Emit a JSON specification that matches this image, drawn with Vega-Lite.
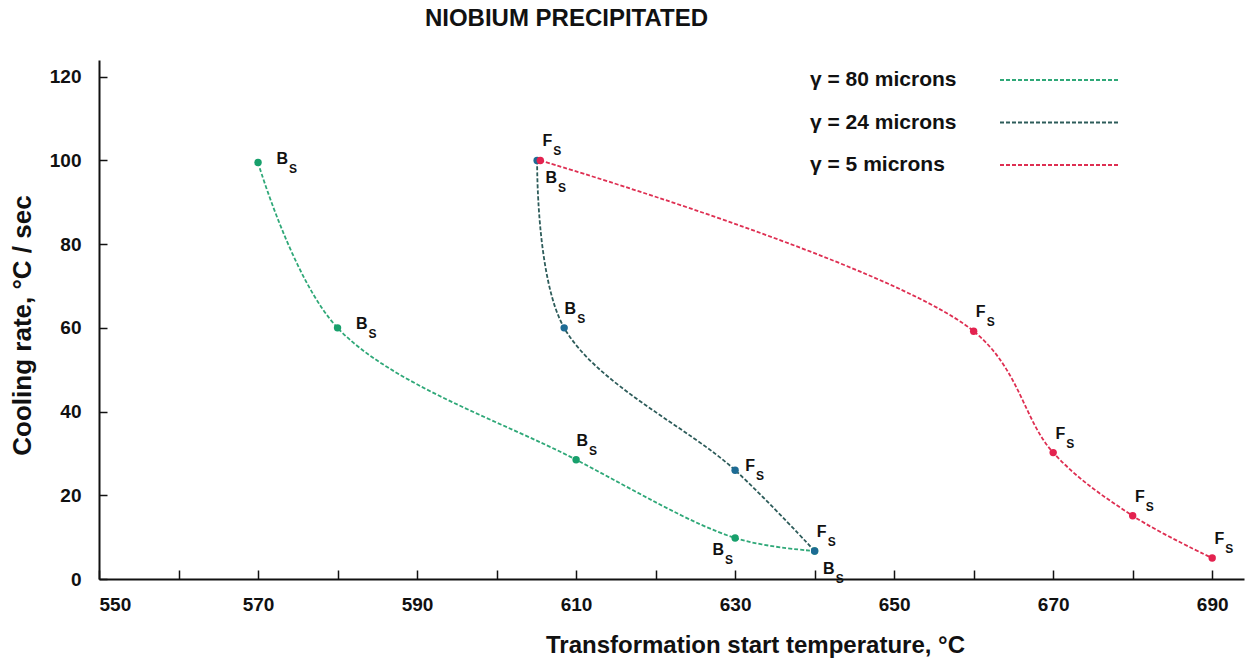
{
  "$schema": "https://vega.github.io/schema/vega-lite/v6.json",
  "autosize": {"type": "none"},
  "width": 1145,
  "height": 519,
  "padding": {"left": 99, "top": 60, "right": 1, "bottom": 89},
  "background": "white",
  "config": {
    "view": {"stroke": null},
    "font": "Liberation Sans",
    "axis": {"grid": false, "domainColor": "#111", "domainWidth": 2, "tickColor": "#111", "tickWidth": 1.5, "labelColor": "#111", "labelFont": "Liberation Sans", "labelFontWeight": "bold", "titleFont": "Liberation Sans", "titleFontWeight": "bold", "titleColor": "#111"}
  },
  "title": {
    "text": "NIOBIUM PRECIPITATED",
    "font": "Liberation Sans",
    "fontSize": 24,
    "fontWeight": "bold",
    "color": "#111",
    "anchor": "middle",
    "frame": "group",
    "dx": -105,
    "baseline": "alphabetic",
    "offset": 10
  },
  "data": {
    "values": [
      {"series": "γ = 80 microns", "temp": 570, "rate": 99.5, "lab": "B"},
      {"series": "γ = 80 microns", "temp": 580, "rate": 60, "lab": "B"},
      {"series": "γ = 80 microns", "temp": 610, "rate": 28.5, "lab": "B"},
      {"series": "γ = 80 microns", "temp": 630, "rate": 9.8, "lab": "B"},
      {"series": "γ = 80 microns", "temp": 640, "rate": 6.7, "lab": "B"},
      {"series": "γ = 24 microns", "temp": 605.1, "rate": 100, "lab": "B"},
      {"series": "γ = 24 microns", "temp": 608.5, "rate": 60, "lab": "B"},
      {"series": "γ = 24 microns", "temp": 630, "rate": 26, "lab": "F"},
      {"series": "γ = 24 microns", "temp": 640, "rate": 6.7, "lab": "F"},
      {"series": "γ = 5 microns", "temp": 605.5, "rate": 100, "lab": "F"},
      {"series": "γ = 5 microns", "temp": 660, "rate": 59.2, "lab": "F"},
      {"series": "γ = 5 microns", "temp": 670, "rate": 30.2, "lab": "F"},
      {"series": "γ = 5 microns", "temp": 680, "rate": 15.1, "lab": "F"},
      {"series": "γ = 5 microns", "temp": 690, "rate": 5, "lab": "F"}
    ]
  },
  "encoding": {
    "x": {
      "field": "temp", "type": "quantitative",
      "scale": {"domain": [550, 694], "nice": false, "zero": false},
      "axis": {
        "values": [550, 560, 570, 580, 590, 600, 610, 620, 630, 640, 650, 660, 670, 680, 690],
        "labelExpr": "(datum.value - 550) % 20 == 0 ? datum.label : ''",
        "tickSize": -9,
        "labelPadding": 25,
        "labelFontSize": 19,
        "title": "Transformation start temperature, °C",
        "titleFontSize": 24,
        "titleX": 656,
        "titleY": 73,
        "titleBaseline": "alphabetic",
        "titleAnchor": "middle"
      }
    },
    "y": {
      "field": "rate", "type": "quantitative",
      "scale": {"domain": [0, 124], "nice": false},
      "axis": {
        "values": [0, 20, 40, 60, 80, 100, 120],
        "tickSize": -8,
        "labelPadding": 26,
        "labelFontSize": 19,
        "title": "Cooling rate, °C / sec",
        "titleFontSize": 26,
        "titleX": -69,
        "titleY": 265,
        "titleBaseline": "alphabetic",
        "titleAnchor": "middle"
      }
    }
  },
  "layer": [
    {
      "mark": {"type": "line", "interpolate": "catmull-rom", "strokeDash": [4, 2], "strokeWidth": 1.8},
      "encoding": {
        "stroke": {
          "field": "series", "type": "nominal",
          "scale": {"domain": ["γ = 80 microns", "γ = 24 microns", "γ = 5 microns"], "range": ["#2fa878", "#2d5c5a", "#de2f52"]},
          "legend": {
            "orient": "none",
            "legendX": 948,
            "legendY": 7,
            "title": null,
            "padding": 0,
            "symbolType": "M-5,0H5",
            "symbolSize": 576,
            "symbolStrokeWidth": 1.8,
            "symbolDash": [4, 2],
            "symbolFillColor": "transparent",
            "rowPadding": 19.5,
            "labelAlign": "left",
            "labelOffset": -263,
            "labelFont": "Liberation Sans",
            "labelFontSize": 21,
            "labelFontWeight": "bold",
            "labelColor": "#111",
            "labelLimit": 400
          }
        },
        "order": {"field": "temp", "type": "quantitative"}
      }
    },
    {
      "mark": {"type": "circle", "size": 55, "opacity": 1},
      "encoding": {
        "fill": {
          "field": "series", "type": "nominal",
          "scale": {"domain": ["γ = 80 microns", "γ = 24 microns", "γ = 5 microns"], "range": ["#18a06c", "#1d6b94", "#e3224f"]},
          "legend": null
        }
      }
    },
    {
      "transform": [{"filter": "datum.series == 'γ = 80 microns' && datum.temp <= 580"}],
      "layer": [
        {"mark": {"type": "text", "align": "right", "baseline": "middle", "dx": 30, "dy": -4, "fontSize": 16, "fontWeight": "bold", "color": "#111"}, "encoding": {"text": {"field": "lab"}}},
        {"mark": {"type": "text", "align": "left", "baseline": "middle", "dx": 31, "dy": 6, "fontSize": 12, "fontWeight": "bold", "color": "#111", "text": "S"}, "encoding": {}}
      ]
    },
    {
      "transform": [{"filter": "datum.series == 'γ = 24 microns' && datum.temp == 630"}],
      "layer": [
        {"mark": {"type": "text", "align": "right", "baseline": "middle", "dx": 20, "dy": -4, "fontSize": 16, "fontWeight": "bold", "color": "#111"}, "encoding": {"text": {"field": "lab"}}},
        {"mark": {"type": "text", "align": "left", "baseline": "middle", "dx": 21, "dy": 6, "fontSize": 12, "fontWeight": "bold", "color": "#111", "text": "S"}, "encoding": {}}
      ]
    },
    {
      "transform": [{"filter": "datum.series == 'γ = 80 microns' && datum.temp == 630"}],
      "layer": [
        {"mark": {"type": "text", "align": "right", "baseline": "middle", "dx": -11, "dy": 12, "fontSize": 16, "fontWeight": "bold", "color": "#111"}, "encoding": {"text": {"field": "lab"}}},
        {"mark": {"type": "text", "align": "left", "baseline": "middle", "dx": -10, "dy": 22, "fontSize": 12, "fontWeight": "bold", "color": "#111", "text": "S"}, "encoding": {}}
      ]
    },
    {
      "transform": [{"filter": "(datum.series == 'γ = 80 microns' && datum.temp == 640) || (datum.series == 'γ = 24 microns' && datum.temp < 606)"}],
      "layer": [
        {"mark": {"type": "text", "align": "right", "baseline": "middle", "dx": 20, "dy": 18, "fontSize": 16, "fontWeight": "bold", "color": "#111"}, "encoding": {"text": {"field": "lab"}}},
        {"mark": {"type": "text", "align": "left", "baseline": "middle", "dx": 21, "dy": 28, "fontSize": 12, "fontWeight": "bold", "color": "#111", "text": "S"}, "encoding": {}}
      ]
    },
    {
      "transform": [{"filter": "!((datum.series == 'γ = 80 microns' && (datum.temp <= 580 || datum.temp >= 630)) || (datum.series == 'γ = 24 microns' && (datum.temp == 630 || datum.temp < 606)))"}],
      "layer": [
        {"mark": {"type": "text", "align": "right", "baseline": "middle", "dx": 12, "dy": -19, "fontSize": 16, "fontWeight": "bold", "color": "#111"}, "encoding": {"text": {"field": "lab"}}},
        {"mark": {"type": "text", "align": "left", "baseline": "middle", "dx": 13, "dy": -9, "fontSize": 12, "fontWeight": "bold", "color": "#111", "text": "S"}, "encoding": {}}
      ]
    }
  ]
}
